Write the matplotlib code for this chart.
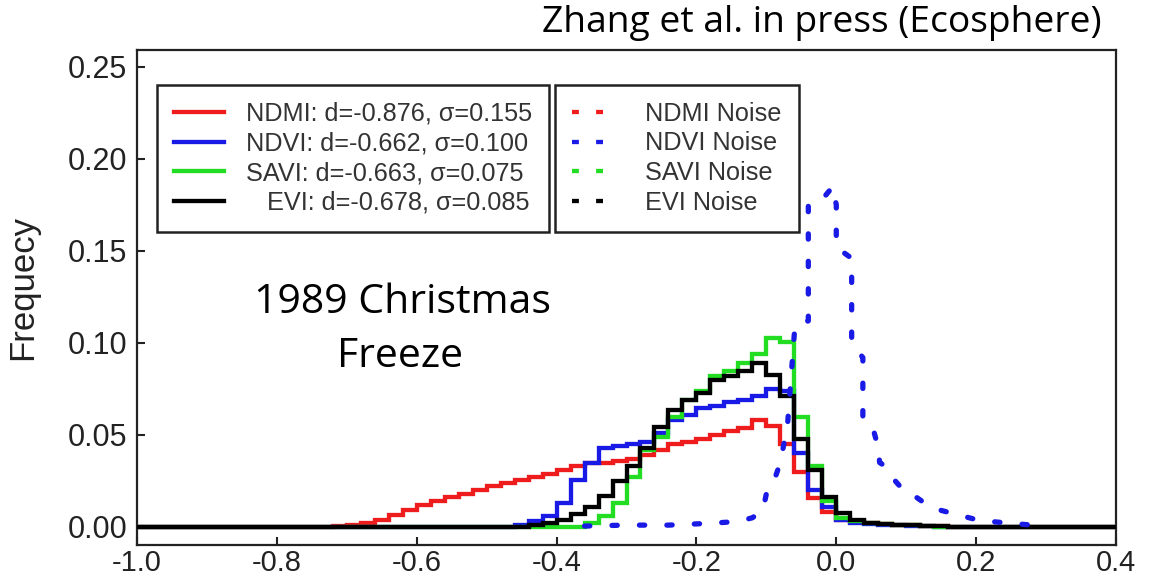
import numpy as np
import matplotlib
matplotlib.use("Agg")
import matplotlib.pyplot as plt
from matplotlib.lines import Line2D

plt.rcParams['font.family'] = ['Liberation Sans', 'DejaVu Sans']
plt.rcParams['axes.unicode_minus'] = False

# ---------------- data ----------------
bin_width = 0.02
x_min, x_max = -1.0, 0.4

ndmi_start = -0.72
ndmi = [0.0005, 0.001, 0.002, 0.004, 0.0065, 0.009, 0.012, 0.014, 0.0165, 0.018,
        0.020, 0.022, 0.024, 0.0255, 0.027, 0.029, 0.031, 0.033, 0.0345, 0.035,
        0.036, 0.037, 0.039, 0.042, 0.045, 0.046, 0.048, 0.050, 0.052, 0.054,
        0.058, 0.055, 0.045, 0.030, 0.016, 0.008, 0.004, 0.003, 0.002, 0.0015,
        0.001, 0.001, 0.0005, 0.0005]

ndvi_start = -0.46
ndvi = [0.001, 0.003, 0.006, 0.013, 0.0255, 0.035, 0.043, 0.044, 0.045, 0.046,
        0.051, 0.058, 0.061, 0.0645, 0.066, 0.068, 0.069, 0.071, 0.075, 0.074,
        0.040, 0.020, 0.011, 0.004, 0.002, 0.0015, 0.001, 0.001, 0.0005, 0.0005]

savi_start = -0.36
savi = [0.002, 0.006, 0.013, 0.027, 0.042, 0.049, 0.060, 0.069, 0.074, 0.082,
        0.085, 0.089, 0.094, 0.1025, 0.1005, 0.060, 0.033, 0.014, 0.005, 0.003,
        0.002, 0.0015, 0.001, 0.001, 0.0005]

evi_start = -0.44
evi = [0.001, 0.002, 0.004, 0.007, 0.011, 0.017, 0.025, 0.033, 0.043, 0.0545,
       0.0636, 0.069, 0.0726, 0.080, 0.082, 0.085, 0.089, 0.0826, 0.071, 0.048,
       0.031, 0.0165, 0.0074, 0.0038, 0.002, 0.0015, 0.001, 0.001, 0.0005, 0.0005]

# NDVI noise curve (dotted), traced points
ndvi_noise_x = [-0.36, -0.30, -0.24, -0.18, -0.14, -0.12, -0.105, -0.10, -0.09, -0.08,
                -0.075, -0.07, -0.06, -0.06, -0.04, -0.04, -0.02, -0.005, 0.0, 0.0,
                0.022, 0.022, 0.038, 0.038, 0.053, 0.06, 0.062, 0.07, 0.082, 0.096,
                0.115, 0.13, 0.15, 0.18, 0.20, 0.22, 0.25, 0.28]
ndvi_noise_y = [0.0005, 0.001, 0.001, 0.002, 0.003, 0.005, 0.009, 0.018, 0.024, 0.035,
                0.045, 0.054, 0.105, 0.109, 0.112, 0.175, 0.178, 0.185, 0.175, 0.152,
                0.146, 0.100, 0.092, 0.058, 0.053, 0.043, 0.035, 0.033, 0.026, 0.020,
                0.016, 0.012, 0.009, 0.006, 0.004, 0.003, 0.002, 0.001]

labels_main = ["NDMI: d=-0.876, \u03c3=0.155",
               "NDVI: d=-0.662, \u03c3=0.100",
               "SAVI: d=-0.663, \u03c3=0.075",
               "   EVI: d=-0.678, \u03c3=0.085"]
labels_noise = ["NDMI Noise", "NDVI Noise", "SAVI Noise", "EVI Noise"]
colors = ["#ee1c1c", "#1a1ae6", "#22dd22", "#000000"]

y_ticks = [0.00, 0.05, 0.10, 0.15, 0.20, 0.25]
x_ticks = [-1.0, -0.8, -0.6, -0.4, -0.2, 0.0, 0.2, 0.4]

# ---------------- helpers ----------------
edges = np.round(np.arange(x_min, x_max + bin_width / 2, bin_width), 2)
n_bins = len(edges) - 1


def full_hist(start, vals):
    out = np.zeros(n_bins)
    i0 = int(round((start - x_min) / bin_width))
    out[i0:i0 + len(vals)] = vals
    return out


series = [full_hist(ndmi_start, ndmi), full_hist(ndvi_start, ndvi),
          full_hist(savi_start, savi), full_hist(evi_start, evi)]

# ---------------- figure ----------------
W, H = 1156, 582
fig = plt.figure(figsize=(W / 100, H / 100), dpi=100)
ax = fig.add_axes([137 / W, (H - 545) / H, (1116 - 137) / W, (545 - 50) / H])

for vals, c in zip(series, colors):
    ax.stairs(vals, edges, color=c, lw=3.1, zorder=3)

ax.plot(ndvi_noise_x, ndvi_noise_y, color=colors[1], lw=3.8,
        linestyle=(0, (1.0, 4.2)), dash_capstyle='round', zorder=4)

ax.set_xlim(x_min, x_max)
ax.set_ylim(-0.0098, 0.2592)
ax.set_xticks(x_ticks)
ax.set_xticklabels([f"{v:.1f}" for v in x_ticks])
ax.set_yticks(y_ticks)
ax.set_yticklabels([f"{v:.2f}" for v in y_ticks])
ax.tick_params(direction='in', length=6, width=1.5, colors='#222222')
ax.tick_params(axis='y', labelsize=22, pad=7)
ax.tick_params(axis='x', labelsize=21, pad=3)
for s in ax.spines.values():
    s.set_linewidth(1.6)
    s.set_color('#222222')

ax.set_ylabel("Frequecy", fontsize=25, color='#222222')
ax.yaxis.set_label_coords(-0.100, 0.52)

# legends
h_main = [Line2D([], [], color=c, lw=3.1) for c in colors]
leg1 = ax.legend(h_main, labels_main, loc='upper left',
                 bbox_to_anchor=(20 / 979, (545 - 85) / 495),
                 borderaxespad=0, fontsize=18.2, handlelength=2.0,
                 handletextpad=0.85, labelspacing=0.22, borderpad=0.67,
                 frameon=True, fancybox=False, edgecolor='#222222',
                 framealpha=1)
leg1.get_frame().set_linewidth(1.8)
for t in leg1.get_texts():
    t.set_color('#333333')
ax.add_artist(leg1)

h_noise = [Line2D([], [], color=c, lw=3.1, linestyle=(0, (1.6, 4.0)))
           for c in colors]
leg2 = ax.legend(h_noise, labels_noise, loc='upper left',
                 bbox_to_anchor=(418 / 979, (545 - 85) / 495),
                 borderaxespad=0, fontsize=18.2, handlelength=1.35,
                 handletextpad=1.55, labelspacing=0.22, borderpad=0.67,
                 frameon=True, fancybox=False, edgecolor='#222222',
                 framealpha=1)
leg2.get_frame().set_linewidth(1.8)
for t in leg2.get_texts():
    t.set_color('#333333')

# annotations
fig.text(1102 / W, (H - 32) / H, "Zhang et al. in press (Ecosphere)",
         ha='right', va='baseline', fontsize=26.8, family='Open Sans')
fig.text(403 / W, (H - 313) / H, "1989 Christmas", ha='center',
         va='baseline', fontsize=29.5, family='Open Sans')
fig.text(400 / W, (H - 367) / H, "Freeze", ha='center',
         va='baseline', fontsize=29.5, family='Open Sans')

fig.savefig("out.png", dpi=100)
